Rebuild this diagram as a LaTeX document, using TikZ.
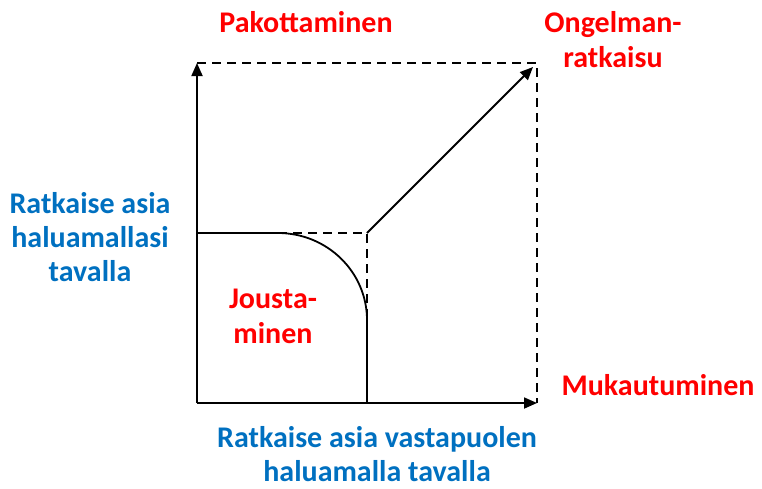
\documentclass[tikz,border=0pt]{standalone}
\usepackage{fontspec}
\setmainfont{Carlito}
\usepackage{xcolor}
\usepackage{tikz}
\usetikzlibrary{positioning, arrows.meta}
\definecolor{stylered}{HTML}{FF0000}
\definecolor{goalblue}{HTML}{0070C0}

\tikzset{
  axis/.style={line width=1.8pt, -{Triangle[length=13pt, width=11pt]}},
  guide/.style={line width=1.8pt, dash pattern=on 9pt off 6pt},
  stylelabel/.style={text=stylered, font=\fontsize{30}{35}\selectfont\bfseries, align=center, inner sep=0pt},
  goallabel/.style={text=goalblue, font=\fontsize{30}{34}\selectfont\bfseries, align=center, inner sep=0pt},
}

\begin{document}
\begin{tikzpicture}[x=1pt, y=-1pt]
  \useasboundingbox (0,0) rectangle (762,488);

  \coordinate (origin) at (197,403);
  \coordinate (ytop) at (197,63);
  \coordinate (xend) at (537,403);
  \coordinate (corner) at (537,63);
  \coordinate (mid) at (367,233);
  \coordinate (midleft) at (197,233);
  \coordinate (bendstart) at (278,233);
  \coordinate (bendend) at (367,320);
  \coordinate (midfoot) at (367,403);

  \draw[guide] (ytop) -- (corner) -- (xend);
  \draw[guide] (bendstart) -- (mid) -- (bendend);
  \draw[axis] (origin) -- (ytop);
  \draw[axis] (origin) -- (xend);
  \draw[line width=1.8pt] (midleft) -- (bendstart)
    arc[start angle=-90, end angle=0, x radius=89, y radius=87] -- (midfoot);
  \draw[axis] (mid) -- (533,67);

  \node[stylelabel] (forcing) at (306,22) {Pakottaminen};
  \node[stylelabel] (solving) at (613,40) {Ongelman-\\ratkaisu};
  \node[stylelabel] (bending) at (273,316) {Jousta-\\minen};
  \node[stylelabel] (yielding) at (658,385) {Mukautuminen};
  \node[goallabel] (owngoal) at (90,237) {Ratkaise asia\\haluamallasi\\tavalla};
  \node[goallabel] (othergoal) at (377,454) {Ratkaise asia vastapuolen\\haluamalla tavalla};
\end{tikzpicture}
\end{document}
